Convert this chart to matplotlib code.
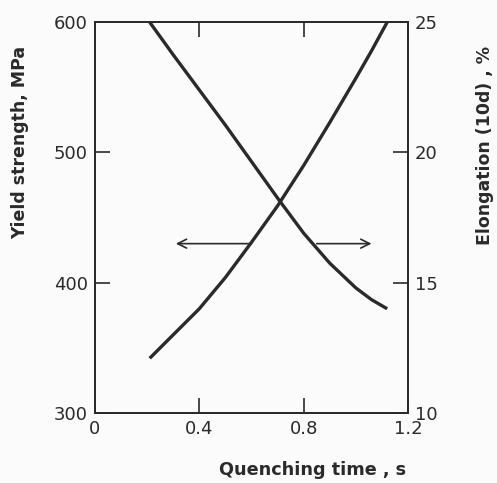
import matplotlib
matplotlib.use('Agg')
import matplotlib.pyplot as plt

# Data
quench_time = [0.21, 0.3, 0.4, 0.5, 0.6, 0.7, 0.8, 0.9, 1.0, 1.06, 1.12]
yield_strength = [600, 575, 548, 521, 493, 465, 438, 415, 396, 387, 380]  # MPa
elongation = [12.1, 13.0, 14.0, 15.2, 16.55, 17.95, 19.5, 21.15, 22.85, 23.9, 25.0]  # %

x_ticks = [0, 0.4, 0.8, 1.2]
x_tick_labels = ['0', '0.4', '0.8', '1.2']
ys_ticks = [300, 400, 500, 600]
el_ticks = [10, 15, 20, 25]

# Arrows pointing to the axis each curve belongs to (start, end in x; level in MPa)
arrow_level = 430
arrow_left = (0.60, 0.31)
arrow_right = (0.85, 1.06)

ink = '#2a2a2a'
plt.rcParams['font.family'] = ['DejaVu Sans']
plt.rcParams['xtick.direction'] = 'in'
plt.rcParams['ytick.direction'] = 'in'

fig = plt.figure(figsize=(4.97, 4.83), dpi=100, facecolor='#fbfbfb')
ax = fig.add_axes([0.191, 0.145, 0.630, 0.809], facecolor='#fbfbfb')
ax2 = ax.twinx()

ax.plot(quench_time, yield_strength, color=ink, lw=2.4, solid_capstyle='butt')
ax2.plot(quench_time, elongation, color=ink, lw=2.4, solid_capstyle='butt')

ax.set_xlim(0, 1.2)
ax.set_ylim(300, 600)
ax2.set_ylim(10, 25)

ax.set_xticks(x_ticks)
ax.set_xticklabels(x_tick_labels)
ax.set_yticks(ys_ticks)
ax2.set_yticks(el_ticks)

for a in (ax, ax2):
    for s in a.spines.values():
        s.set_color(ink)
        s.set_linewidth(1.3)
ax.tick_params(axis='both', length=11, width=1.2, color=ink, labelcolor=ink,
               labelsize=13, top=True, pad=5)
ax2.tick_params(axis='y', length=11, width=1.2, color=ink, labelcolor=ink,
                labelsize=13, pad=5)

for (x0, x1) in (arrow_left, arrow_right):
    ax.annotate('', xy=(x1, arrow_level), xytext=(x0, arrow_level),
                arrowprops=dict(arrowstyle='->', color=ink, lw=1.2,
                                mutation_scale=16, shrinkA=0, shrinkB=0))

fig.text(0.04, 0.706, 'Yield strength, MPa', rotation=90, ha='center', va='center',
         fontsize=12.5, color=ink, fontweight='bold')
fig.text(0.976, 0.698, 'Elongation (10d) , %', rotation=90, ha='center', va='center',
         fontsize=12.5, color=ink, fontweight='bold')
fig.text(0.628, 0.027, 'Quenching time , s', ha='center', va='center',
         fontsize=12.7, color=ink, fontweight='bold')

fig.savefig('out.png', dpi=100, facecolor=fig.get_facecolor())
